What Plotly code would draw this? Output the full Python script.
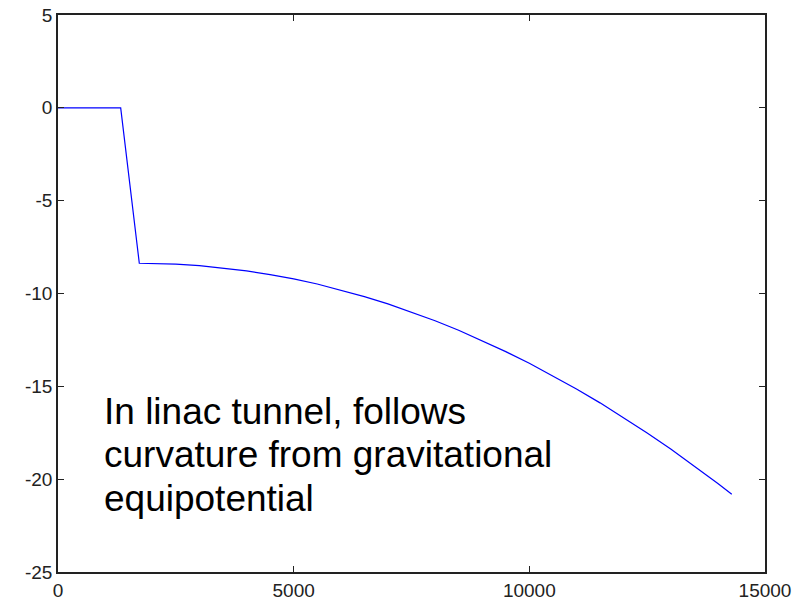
import plotly.graph_objects as go

# Data
x_vals = [0, 500, 1000, 1330, 1725, 2000, 2500, 3000, 3500, 4000, 4500, 5000, 5500,
          6000, 6500, 7000, 7500, 8000, 8500, 9000, 9500, 10000, 10500, 11000,
          11500, 12000, 12500, 13000, 13500, 14000, 14295]
y_vals = [0, 0, 0, 0, -8.37, -8.38, -8.42, -8.50, -8.62, -8.78, -8.98, -9.21, -9.49,
          -9.81, -10.17, -10.56, -11.00, -11.47, -11.98, -12.54, -13.13, -13.76,
          -14.43, -15.14, -15.89, -16.68, -17.51, -18.38, -19.29, -20.23, -20.81]

x_ticks = [0, 5000, 10000, 15000]
y_ticks = [5, 0, -5, -10, -15, -20, -25]
note_lines = ["In linac tunnel, follows", "curvature from gravitational", "equipotential"]

fig = go.Figure()
fig.add_trace(go.Scatter(x=x_vals, y=y_vals, mode="lines",
                         line=dict(color="#0000ff", width=1.2), showlegend=False))

axis_common = dict(showline=True, linecolor="#222222", linewidth=1.5, mirror="ticks",
                   ticks="inside", ticklen=6, tickcolor="#222222", tickwidth=1,
                   showgrid=False, zeroline=False, automargin=False,
                   tickfont=dict(family="Liberation Sans, Arial, sans-serif", size=19, color="#222222"))

fig.update_xaxes(range=[0, 15000], tickvals=x_ticks, ticktext=[str(v) for v in x_ticks], **axis_common)
fig.update_yaxes(range=[-25, 5], tickvals=y_ticks, ticktext=[str(v) for v in y_ticks], **axis_common)

line_y = [0.2887, 0.2115, 0.1325]
for txt, yy in zip(note_lines, line_y):
    fig.add_annotation(xref="paper", yref="paper", x=(101.5 - 58) / 707, y=yy,
                       xanchor="left", yanchor="middle", align="left", showarrow=False,
                       text=txt,
                       font=dict(family="Liberation Sans, Arial, sans-serif", size=37, color="black"))

fig.update_layout(width=801, height=600, margin=dict(l=58, r=36, t=15, b=28),
                  plot_bgcolor="white", paper_bgcolor="white")

fig.write_html("out.html")
